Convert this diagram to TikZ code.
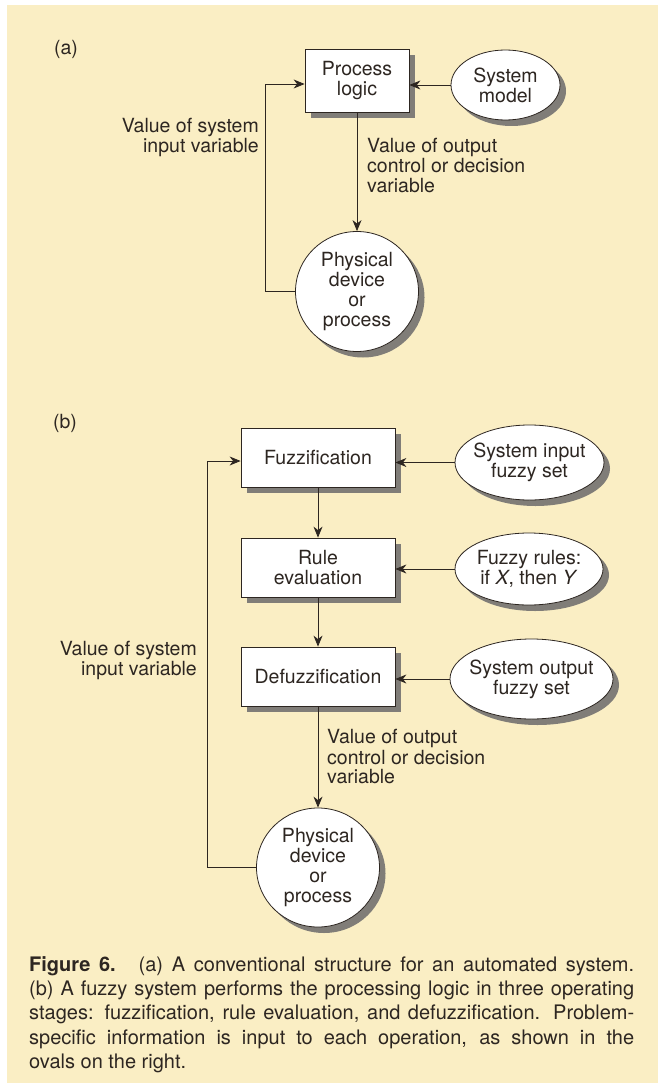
\documentclass[tikz,border=0pt]{standalone}
\usepackage{fontspec}
\setsansfont{TeX Gyre Heros}
\usetikzlibrary{arrows.meta,shapes,shadows,calc}
\definecolor{paper}{RGB}{250,238,196}
\definecolor{ink}{RGB}{45,38,33}
\definecolor{shade}{RGB}{128,125,120}
\tikzset{every picture/.style={/utils/exec={\sffamily}}}
\tikzset{txt/.style={font=\fontsize{19.5}{20}\selectfont,text=ink,inner sep=0pt}}
\tikzset{procbox/.style={txt,draw=ink,line width=0.8pt,fill=white,align=center,drop shadow={shadow xshift=6pt,shadow yshift=-6pt,fill=shade,opacity=1}}}
\tikzset{oval/.style={procbox,ellipse,inner xsep=-25pt}}
\tikzset{flow/.style={-{Stealth[length=11pt,width=9pt,inset=3.5pt]},ink,line width=0.8pt}}
\tikzset{wire/.style={ink,line width=0.8pt}}

\begin{document}
\begin{tikzpicture}[x=1pt,y=-1pt]
    \useasboundingbox (0,0) rectangle (658,1083);
    \fill [white] (0,0) rectangle (658,1083);
    \fill [paper] (7,5) rectangle (658,1083);
    % (a)
    \node [txt] (alabel) at (66,49) {(a)};
    \node [procbox,minimum width=104,minimum height=63] (logic) at (357,80.5) {Process\\logic};
    \node [oval,minimum width=109,minimum height=70] (model) at (505.5,85) {System\\model};
    \node [oval,minimum width=123,minimum height=120] (plant) at (357,291.5) {Physical\\device\\or\\process};
    \node [txt,anchor=east,align=right] (ain) at (259,137.5) {Value of system\\input variable};
    \node [txt,anchor=west,align=left] (aout) at (367,165.5) {Value of output\\control or decision\\variable};
    \coordinate (aturn) at (265,84);
    \draw [flow] (model.west) -- (logic.east |- model.west);
    \draw [flow] (logic.south) -- (plant.north);
    \draw [flow] (plant.west) -| (aturn) -- (aturn -| logic.west);
    % (b)
    \node [txt] (blabel) at (65,423) {(b)};
    \node [procbox,minimum width=154,minimum height=59] (fuzz) at (318,457.5) {Fuzzification};
    \node [procbox,minimum width=154,minimum height=59] (rules) at (318,567.5) {Rule\\evaluation};
    \node [procbox,minimum width=154,minimum height=59] (defuzz) at (318,676.5) {Defuzzification};
    \node [oval,minimum width=149,minimum height=75] (inset) at (529.5,462.5) {System input\\fuzzy set};
    \node [oval,minimum width=148,minimum height=72] (ruleset) at (529,569) {Fuzzy rules:\\if \textit{X}, then \textit{Y}};
    \node [oval,minimum width=163,minimum height=80] (outset) at (531.5,679) {System output\\fuzzy set};
    \node [oval,minimum width=123,minimum height=119] (device) at (318,867.5) {Physical\\device\\or\\process};
    \node [txt,anchor=east,align=right] (bin) at (197,660) {Value of system\\input variable};
    \node [txt,anchor=west,align=left] (bout) at (327,757) {Value of output\\control or decision\\variable};
    \coordinate (bturn) at (207,461);
    \draw [flow] (inset.west) -- (fuzz.east |- inset.west);
    \draw [flow] (ruleset.west) -- (rules.east |- ruleset.west);
    \draw [flow] (outset.west) -- (defuzz.east |- outset.west);
    \draw [flow] (fuzz.south) -- (rules.north);
    \draw [flow] (rules.south) -- (defuzz.north);
    \draw [flow] (defuzz.south) -- (device.north);
    \draw [flow] (device.west) -| (bturn) -- (bturn -| fuzz.west);
    % caption
    \node [txt,anchor=north west,text width=605pt,align=justify,font=\fontsize{20}{24.3}\selectfont] (caption) at (29,956) {\textbf{Figure 6.}\hspace{0.3em} (a) A conventional structure for an automated system.\linebreak (b) A fuzzy system performs the processing logic in three operating\linebreak stages: fuzzification, rule evaluation, and defuzzification. Problem-\linebreak specific information is input to each operation, as shown in the\linebreak ovals on the right.};
\end{tikzpicture}
\end{document}
